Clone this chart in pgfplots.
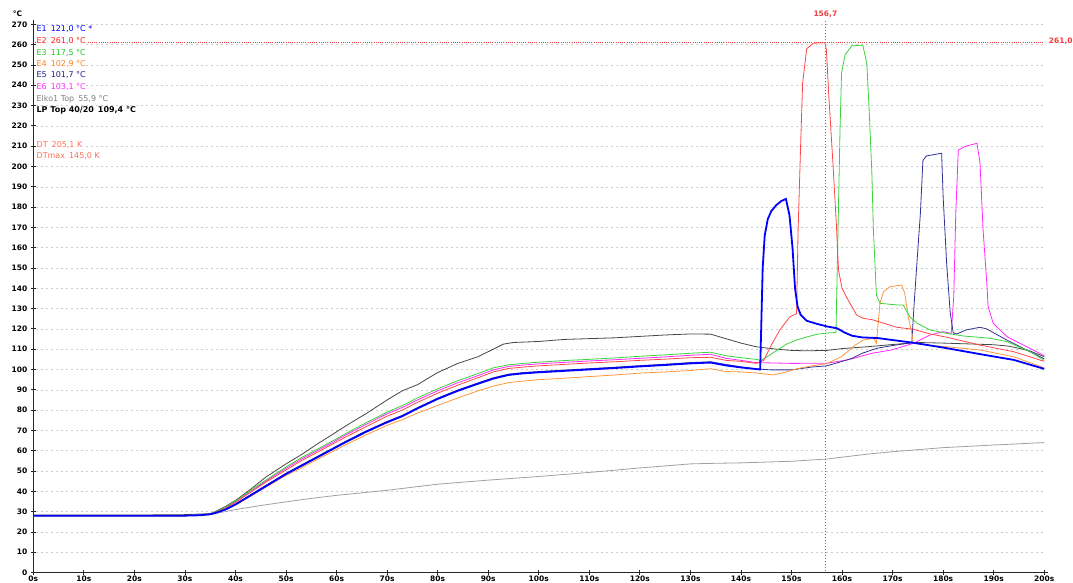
\documentclass[border=0pt]{standalone}
\usepackage{pgfplots}
\pgfplotsset{compat=1.18}
\usepackage{fontspec}
\setmainfont{DejaVu Sans}

% line colours of the probes
\definecolor{cEone}{RGB}{0,0,255}
\definecolor{cEtwo}{RGB}{255,70,70}
\definecolor{cEthree}{RGB}{60,210,60}
\definecolor{cEfour}{RGB}{255,150,60}
\definecolor{cEfive}{RGB}{50,50,150}
\definecolor{cEsix}{RGB}{255,40,255}
\definecolor{cElko}{RGB}{160,160,160}
\definecolor{cLP}{RGB}{70,70,70}
% text colours of the readout
\definecolor{tEtwo}{RGB}{255,30,30}
\definecolor{tEthree}{RGB}{30,200,30}
\definecolor{tEfour}{RGB}{255,130,30}
\definecolor{tEfive}{RGB}{30,30,140}
\definecolor{tDT}{RGB}{255,110,90}
\definecolor{gridc}{RGB}{205,205,205}
\definecolor{markred}{RGB}{240,60,60}

\begin{document}
\begin{tikzpicture}
\begin{axis}[
  scale only axis, width=1015pt, height=552.2pt,
  xmin=0, xmax=200.8, ymin=0, ymax=272,
  axis x line*=bottom, axis y line*=left,
  axis line style={black!85, line width=0.8pt, -},
  xtick={0,10,...,200}, ytick={0,10,...,270},
  xticklabels={0s,10s,20s,30s,40s,50s,60s,70s,80s,90s,100s,110s,120s,130s,140s,150s,160s,170s,180s,190s,200s},
  tick align=center, major tick length=5pt,
  tick style={black!85, line width=0.8pt},
  ticklabel style={font=\fontsize{7.5}{9}\selectfont\bfseries},
  xticklabel style={yshift=2.5pt},
  /pgf/number format/assume math mode=true,
  clip=false,
]
% horizontal grid
\pgfplotsinvokeforeach{10,20,...,270}{
  \draw[gridc, line width=0.5pt, dash pattern=on 2pt off 3pt] (axis cs:0.5,#1) -- (axis cs:200,#1);
}
% cursor at 156,7 s and its reading 261,0
\addplot[color=markred, solid, line width=1.4pt, dash pattern=on 1.5pt off 1.5pt, forget plot] coordinates {(156.7,0.5) (156.7,272)};
\addplot[color=markred, solid, line width=0.9pt, dash pattern=on 1pt off 1.2pt, forget plot] coordinates {(0.3,261) (200,261)};

% Elko1 Top
\addplot[cElko, line width=0.8pt] coordinates {
(0,28) (10,28) (20,28) (30,28) (35,28.5) (36,29) (38,30) (40,31) (45,33) (50,34.8) (55,36.5) (60,38) (70,40.5) (80,43.5) (90,45.5) (100,47.3) (110,49.3) (120,51.5) (130,53.5) (135,53.8) (140,54) (150,54.8) (157,55.9) (165,58.3) (170,59.5) (180,61.5) (190,62.8) (200,64)
};
% LP Top 40/20
\addplot[cLP, line width=0.8pt] coordinates {
(0,28.3) (10,28.3) (20,28.3) (30,28.5) (35,29) (36,30) (38,32.5) (40,35.5) (43,41) (46,47) (50,53.5) (53,58) (56,63) (59,67.7) (62,72.5) (66,78.5) (70,85) (73,89.5) (76,92.5) (80,98.5) (84,103) (88,106.3) (91,110) (93,112.5) (95,113.3) (100,113.8) (105,114.8) (110,115.2) (115,115.6) (120,116.3) (125,117) (130,117.5) (134,117.4) (137,115.2) (140,113) (143,111.2) (147,110) (150,109.4) (153,109.2) (157,109.4) (160,110.3) (165,111.2) (170,112.3) (175,113.3) (180,113) (185,112.6) (190,112.2) (193,111.5) (197,109.3) (200,106.3)
};
% E6
\addplot[cEsix, line width=0.8pt] coordinates {
(0,28) (10,28) (20,28) (30,28) (33,28.2) (35,28.8) (36,29.6) (38,31.8) (40,35) (43,40) (46,45) (50,51.3) (53,55.8) (56,59.8) (59,63.8) (62,68) (66,73.2) (70,78.2) (73,81.3) (76,85) (80,89.5) (84,93.5) (88,97) (91,99.8) (94,101.5) (97,102.2) (100,102.8) (105,103.5) (110,104.2) (115,104.8) (120,105.5) (125,106.2) (130,107) (134,107.5) (137,105.5) (140,104.5) (143,103.4) (150,103) (157,103.1) (161.1,104.7) (165.9,108) (169.8,109.6) (174.1,112.9) (177.4,117) (180,118.6) (181.6,117.8) (182.1,135.9) (182.5,177) (183,208.1) (184.6,210.1) (186.7,211.4) (187.3,201.6) (187.9,168.7) (188.6,144) (188.9,131) (189.9,122.8) (192.6,116.2) (195.9,112) (200,106.8)
};
% E5
\addplot[cEfive, line width=0.8pt] coordinates {
(0,28) (10,28) (20,28) (30,28) (33,28.2) (35,28.7) (36,29.3) (38,31) (40,33.7) (43,38.3) (46,42.9) (50,48.9) (53,52.9) (56,56.9) (59,60.9) (62,64.9) (66,69.9) (70,74.4) (73,77.4) (76,81.2) (80,85.9) (84,89.9) (88,93.4) (91,95.9) (94,97.7) (97,98.5) (100,99) (105,99.7) (110,100.4) (115,101.1) (120,101.9) (125,102.6) (130,103.4) (134,103.8) (137,102.5) (140,101.3) (143,100.3) (146,99.8) (150,99.8) (154,101.2) (157,101.8) (160,104) (162,105.5) (164,108) (167,110.5) (170,111.8) (173.8,113.2) (174.2,130) (174.8,152) (175.5,177) (176,203) (176.7,205.2) (179.7,206.5) (180,185) (180.7,152) (181.4,128) (182,118) (182.7,117.5) (184.6,119.5) (187.3,120.8) (188.6,120) (192.6,114.5) (196.5,109.6) (200,105.3)
};
% E4
\addplot[cEfour, line width=0.8pt] coordinates {
(0,28) (10,28) (20,28) (30,28) (33,28.1) (35,28.6) (36,29.2) (38,30.8) (40,33.2) (43,37.5) (46,42) (50,47.8) (53,51.5) (56,55.5) (59,59.3) (62,63.2) (66,68) (70,72.5) (73,75.3) (76,78.5) (80,82.3) (84,86) (88,89.5) (91,91.8) (94,93.5) (97,94.3) (100,95) (105,95.7) (110,96.5) (115,97.3) (120,98.2) (125,98.8) (130,99.5) (134,100.4) (137,99) (140,98.8) (143,98.3) (146.4,97.3) (149,98.8) (151,100.3) (154,101.8) (157,102.9) (159.9,106.3) (162.6,112) (164.2,114.5) (166.2,115.4) (166.8,113) (167.5,132.6) (168.2,138.3) (169.5,140.8) (171.8,141.6) (172.4,137.5) (173.1,126) (173.8,117.8) (174.1,113) (177,112) (180.7,111.2) (187.3,109.6) (193.9,106.3) (200,100.8)
};
% E3
\addplot[cEthree, line width=0.8pt] coordinates {
(0,28) (10,28) (20,28) (30,28) (33,28.2) (35,28.8) (36,29.7) (38,32) (40,35.2) (43,40.5) (46,45.5) (50,52) (53,56.5) (56,60.5) (59,64.5) (62,68.7) (66,74) (70,79) (73,82.2) (76,86) (80,90.5) (84,94.5) (88,98) (91,100.8) (94,102.3) (97,103) (100,103.6) (105,104.4) (110,105) (115,105.7) (120,106.5) (125,107.2) (130,108) (134,108.5) (137,106.8) (140,105.8) (143,105) (144,104.5) (145,106) (147.7,110.4) (149,112.5) (151,114.5) (153,116) (155,117.3) (157,118) (158.8,118.2) (159.2,168.7) (159.6,218) (159.9,246) (160.6,255) (161.9,259.4) (164.1,259.8) (164.9,250.8) (165.4,226) (165.9,196.6) (166.2,168.7) (166.8,136.7) (167.5,132.6) (170.8,131.8) (172.1,131.8) (173.4,126) (174.8,122.8) (177.4,119.5) (180.7,117.8) (184,116.5) (189.3,115.4) (192.6,113.7) (197.2,108.8) (200,104.5)
};
% E2
\addplot[cEtwo, line width=0.8pt] coordinates {
(0,28) (10,28) (20,28) (30,28) (33,28.2) (35,28.8) (36,29.5) (38,31.5) (40,34.5) (43,39.5) (46,44.5) (50,50.5) (53,55) (56,59) (59,63) (62,67) (66,72) (70,77) (73,80) (76,83.8) (80,88.3) (84,92.3) (88,96) (91,98.8) (94,100.5) (97,101.2) (100,101.8) (105,102.5) (110,103.2) (115,103.8) (120,104.5) (125,105.1) (130,105.8) (134,106) (137,104.5) (140,104) (143,103) (144.5,104.5) (146,112) (147.7,119.5) (149.7,126) (151,127.5) (151.3,168) (151.8,210) (152.2,241) (153,258) (154.3,260.7) (156.6,261) (156.9,257.4) (157.4,234) (158.2,201.6) (158.9,170.3) (159.3,149) (160,140) (161.2,134.2) (162.9,126.8) (164.2,125.2) (166,124.5) (168.2,122.8) (170.8,120.8) (174.1,119.8) (177.4,117.5) (180.7,115.9) (187.3,112) (193.9,108.8) (200,104)
};
% E1
\addplot[cEone, line width=1.8pt] coordinates {
(0,28) (10,28) (20,28) (30,28) (33,28.2) (35,28.7) (36,29.3) (38,31) (40,33.5) (43,38) (46,42.5) (50,48.5) (53,52.5) (56,56.5) (59,60.5) (62,64.5) (66,69.5) (70,74) (73,77) (76,80.8) (80,85.5) (84,89.5) (88,93) (91,95.5) (94,97.3) (97,98.1) (100,98.6) (105,99.3) (110,100) (115,100.7) (120,101.5) (125,102.2) (130,103) (134,103.4) (137,102) (140,101) (143.8,100) (144.3,150) (144.7,166) (145.3,174) (146,178) (147,181) (148,183) (148.9,184) (149.6,176) (150.2,160) (150.7,140) (151.2,131) (151.8,127) (153,124) (155,122.5) (157,121.2) (159,120.3) (160.5,118.2) (162,116.6) (164,115.8) (167,115.5) (170,114.5) (174,113.2) (180,110.8) (187,107.7) (194,104.7) (200,100.3)
};

% readout
\tikzset{ro/.style={anchor=base west, fill=white, inner sep=0.6pt, font=\fontsize{8}{9.6}\selectfont}}
\node[ro, text=cEone]   at (axis cs:0.5,266.3) {E1\enspace 121,0 °C *};
\node[ro, text=tEtwo]   at (axis cs:0.5,260.5) {E2\enspace 261,0 °C};
\node[ro, text=tEthree] at (axis cs:0.5,254.7) {E3\enspace 117,5 °C};
\node[ro, text=tEfour]  at (axis cs:0.5,249.3) {E4\enspace 102,9 °C};
\node[ro, text=tEfive]  at (axis cs:0.5,243.7) {E5\enspace 101,7 °C};
\node[ro, text=cEsix]   at (axis cs:0.5,237.8) {E6\enspace 103,1 °C};
\node[ro, text=gray]    at (axis cs:0.5,232.1) {Elko1 Top\enspace 55,9 °C};
\node[ro, text=black, font=\fontsize{8}{9.6}\selectfont\bfseries] at (axis cs:0.5,226.7) {LP Top 40/20\enspace 109,4 °C};
\node[ro, text=tDT]     at (axis cs:0.5,209.1) {DT\enspace 205,1 K};
\node[ro, text=tDT]     at (axis cs:0.5,203.8) {DTmax\enspace 145,0 K};

% cursor values and unit
\node[anchor=base, text=markred, inner sep=0pt, font=\fontsize{7.5}{9}\selectfont\bfseries] at (axis cs:156.7,273.9) {156,7};
\node[anchor=base west, text=markred, inner sep=0pt, font=\fontsize{7.5}{9}\selectfont\bfseries] at (axis cs:200.9,260.5) {261,0};
\node[anchor=base west, inner sep=0pt, font=\fontsize{7.5}{9}\selectfont\bfseries] at (axis cs:-4.1,273.8) {°C};
\end{axis}
\pgfresetboundingbox
\useasboundingbox (-33.3pt,-9.5pt) rectangle (1039.7pt,572.5pt);
\end{tikzpicture}
\end{document}
